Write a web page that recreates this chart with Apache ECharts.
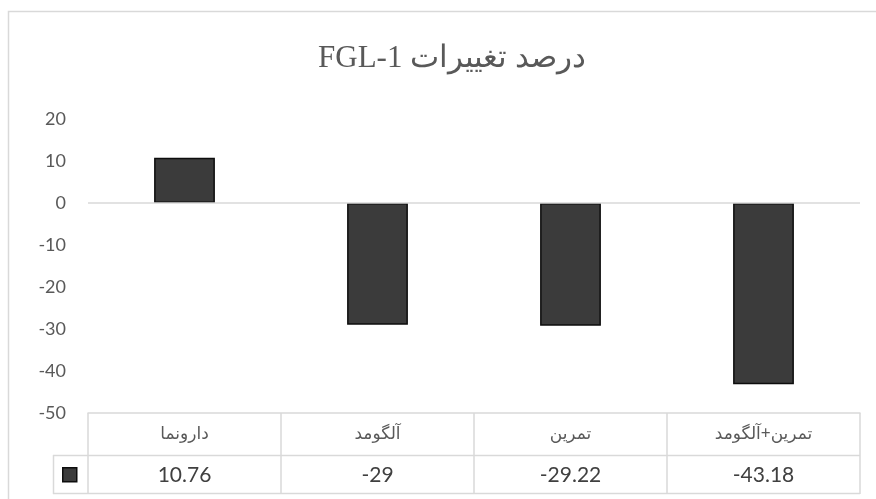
<!DOCTYPE html>
<html>
<head>
<meta charset="utf-8">
<script src="https://cdn.jsdelivr.net/npm/echarts@6/dist/echarts.min.js"></script>
<style>
html,body{margin:0;padding:0;background:#fff;}
#chart{width:876px;height:499px;}
</style>
</head>
<body>
<div id="chart"></div>
<script>
const titleText = '\u202Bدرصد تغییرات FGL-1\u202C';
const categories = ['دارونما', 'آلگومد', 'تمرین', 'تمرین+آلگومد'];
const values = [10.76, -29, -29.22, -43.18];
const valueLabels = ['10.76', '-29', '-29.22', '-43.18'];
const yMin = -50, yMax = 20, yStep = 10;

const gridColor = '#d9d9d9';
const font = 'Lato, "Open Sans", "DejaVu Sans", sans-serif';

const chart = echarts.init(document.getElementById('chart'), null, {renderer: 'canvas'});
chart.setOption({
  animation: false,
  backgroundColor: '#ffffff',
  title: {
    text: titleText,
    left: 447,
    textAlign: 'center',
    top: 38,
    textStyle: {
      fontFamily: '"Liberation Serif", "DejaVu Serif", serif',
      fontSize: 31,
      fontWeight: 'normal',
      color: '#595959'
    }
  },
  legend: {
    show: true,
    left: 57,
    top: 462,
    padding: 5,
    itemWidth: 14,
    itemHeight: 14,
    icon: 'rect',
    formatter: function () { return ''; },
    itemStyle: {color: '#3b3b3b', borderColor: '#0d0d0d', borderWidth: 1.5},
    data: ['FGL-1']
  },
  grid: {left: 88, right: 16, top: 119, bottom: 86, containLabel: false},
  xAxis: [
    {
      type: 'category',
      data: categories,
      position: 'bottom',
      axisLine: {show: true, onZero: false, lineStyle: {color: gridColor, width: 1.5}},
      axisTick: {show: true, interval: 0, length: 81, lineStyle: {color: gridColor, width: 1.5}},
      axisLabel: {
        interval: 0,
        margin: 12,
        fontSize: 17,
        color: '#595959',
        fontFamily: font
      },
      splitLine: {show: false}
    },
    {
      type: 'category',
      data: valueLabels,
      position: 'bottom',
      offset: 42,
      axisLine: {show: false},
      axisTick: {show: false},
      axisLabel: {
        interval: 0,
        margin: 10,
        fontSize: 21,
        color: '#404040',
        fontFamily: font
      },
      splitLine: {show: false}
    }
  ],
  yAxis: {
    type: 'value',
    min: yMin,
    max: yMax,
    interval: yStep,
    axisLine: {show: false},
    axisTick: {show: false},
    splitLine: {show: false},
    axisLabel: {
      margin: 22,
      fontSize: 18,
      color: '#595959',
      fontFamily: font
    }
  },
  series: [
    {
      name: 'FGL-1',
      type: 'bar',
      xAxisIndex: 0,
      yAxisIndex: 0,
      data: values,
      barWidth: '31.5%',
      itemStyle: {color: '#3b3b3b', borderColor: '#0d0d0d', borderWidth: 1.5},
      markLine: {
        silent: true,
        symbol: 'none',
        label: {show: false},
        lineStyle: {color: gridColor, width: 1.5, type: 'solid'},
        data: [{yAxis: 0}]
      },
      z: 3
    }
  ],
  graphic: [
    {type: 'rect', shape: {x: 8.5, y: 11.5, width: 1000, height: 1000}, style: {fill: 'none', stroke: gridColor, lineWidth: 1.5}, silent: true},
    {type: 'line', shape: {x1: 53, y1: 455.5, x2: 860, y2: 455.5}, style: {stroke: gridColor, lineWidth: 1.5}, silent: true},
    {type: 'line', shape: {x1: 53, y1: 493.5, x2: 860, y2: 493.5}, style: {stroke: gridColor, lineWidth: 1.5}, silent: true},
    {type: 'line', shape: {x1: 53.5, y1: 455, x2: 53.5, y2: 494}, style: {stroke: gridColor, lineWidth: 1.5}, silent: true}
  ]
});
</script>
</body>
</html>
